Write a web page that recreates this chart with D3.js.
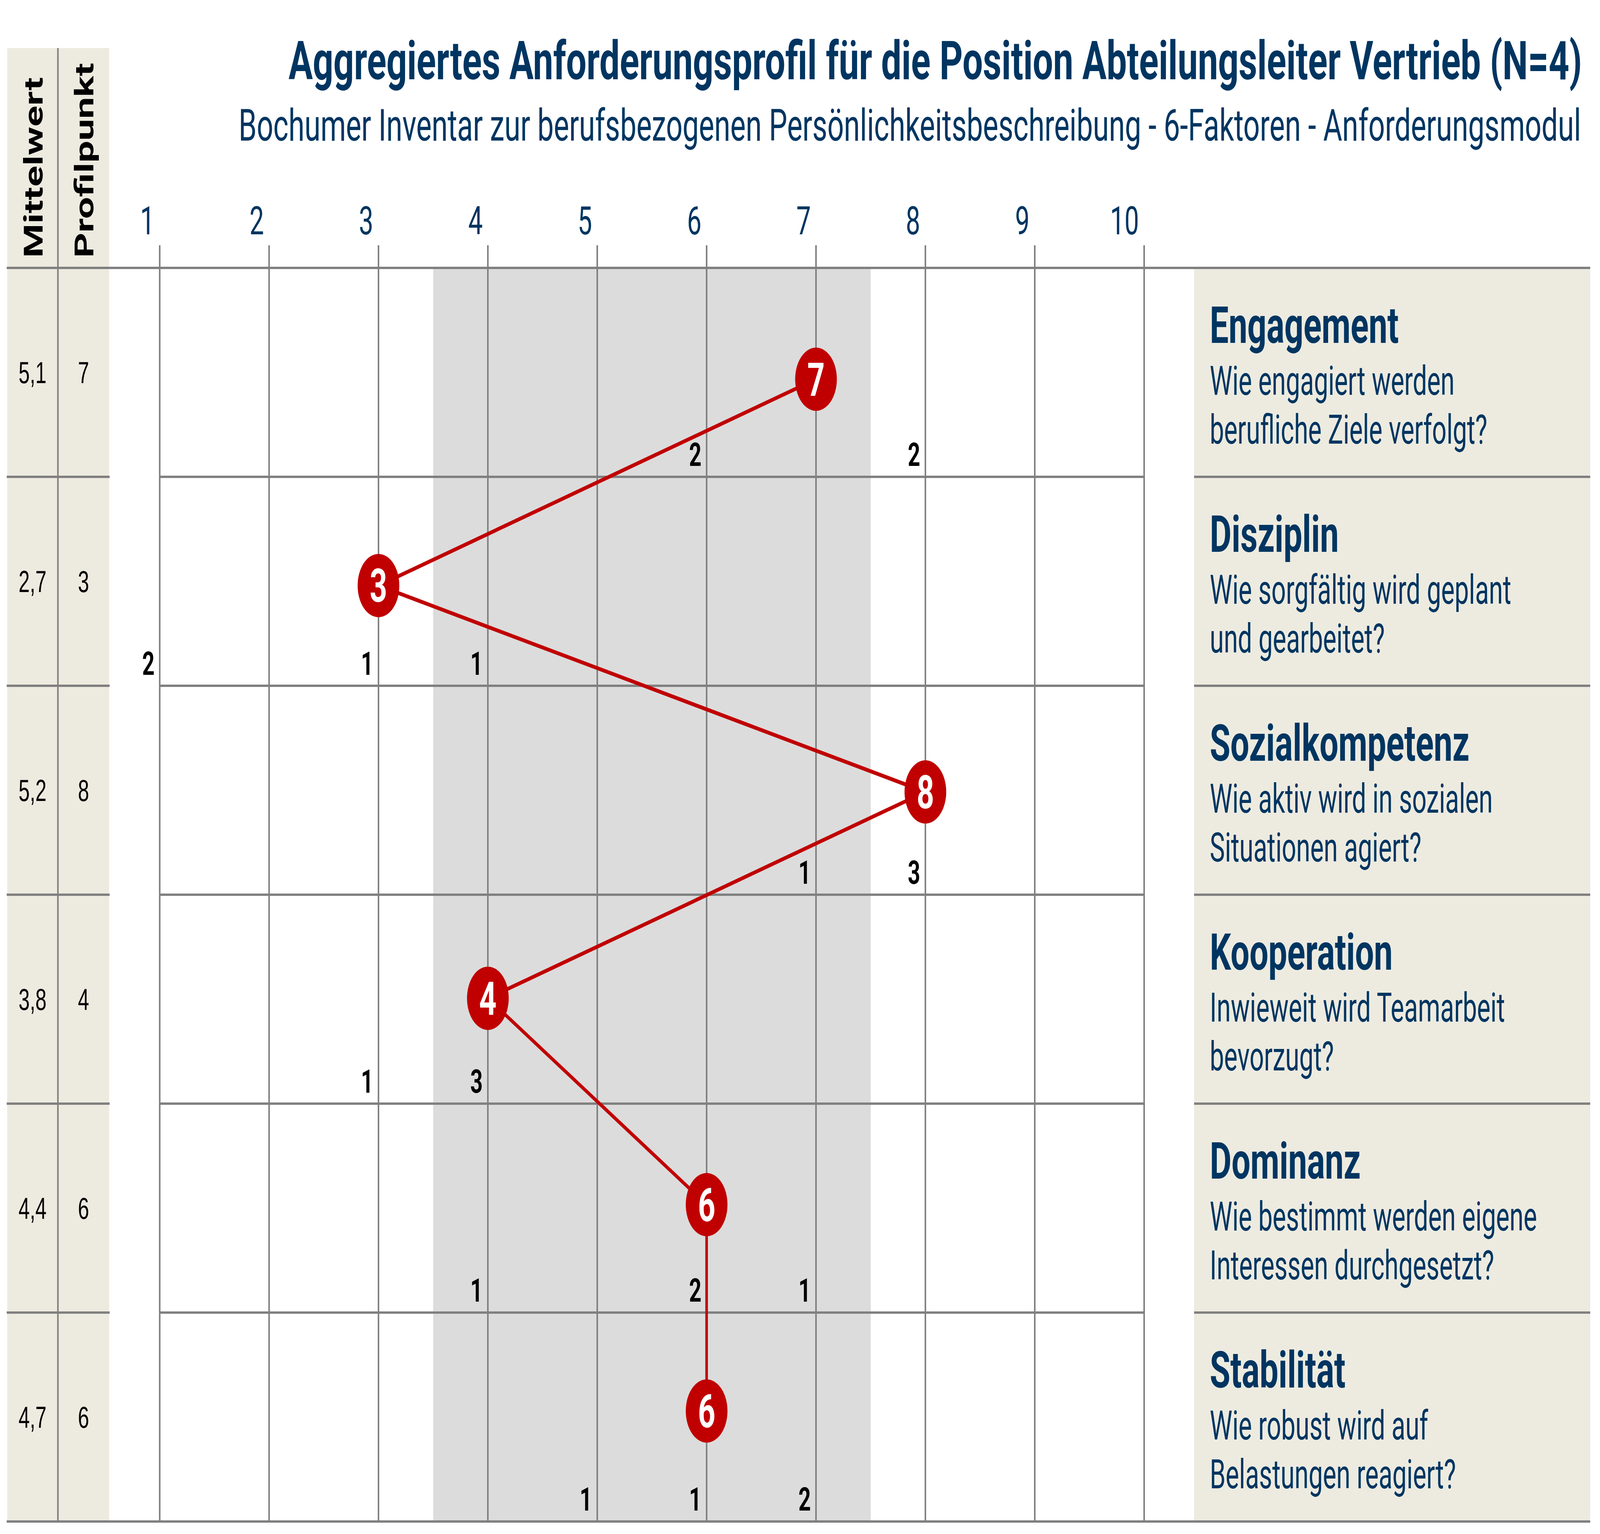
<!DOCTYPE html>
<html>
<head>
<meta charset="utf-8">
<script src="https://cdn.jsdelivr.net/npm/d3@7"></script>
<style>
  html, body { margin: 0; padding: 0; background: #fff; overflow: hidden; }
  svg { display: block; width: 100vw; height: 100vh; }
</style>
</head>
<body>
<div id="chart"></div>
<script>
// ---- data ----
const factors = ["Engagement", "Disziplin", "Sozialkompetenz", "Kooperation", "Dominanz", "Stabilität"];
const questions = [
  ["Wie engagiert werden", "berufliche Ziele verfolgt?"],
  ["Wie sorgfältig wird geplant", "und gearbeitet?"],
  ["Wie aktiv wird in sozialen", "Situationen agiert?"],
  ["Inwieweit wird Teamarbeit", "bevorzugt?"],
  ["Wie bestimmt werden eigene", "Interessen durchgesetzt?"],
  ["Wie robust wird auf", "Belastungen reagiert?"]
];
const meanValues = [5.1, 2.7, 5.2, 3.8, 4.4, 4.7];
const profilePoints = [7, 3, 8, 4, 6, 6];
// how many of the N=4 raters chose each scale point
const ratingCounts = [
  [{ v: 6, n: 2 }, { v: 8, n: 2 }],
  [{ v: 1, n: 2 }, { v: 3, n: 1 }, { v: 4, n: 1 }],
  [{ v: 7, n: 1 }, { v: 8, n: 3 }],
  [{ v: 3, n: 1 }, { v: 4, n: 3 }],
  [{ v: 4, n: 1 }, { v: 6, n: 2 }, { v: 7, n: 1 }],
  [{ v: 5, n: 1 }, { v: 6, n: 1 }, { v: 7, n: 2 }]
];
const scaleTicks = [1, 2, 3, 4, 5, 6, 7, 8, 9, 10];
const targetBand = [3.5, 7.5];
const headerLabels = ["Mittelwert", "Profilpunkt"];
const title = "Aggregiertes Anforderungsprofil für die Position Abteilungsleiter Vertrieb (N=4)";
const subtitle = "Bochumer Inventar zur berufsbezogenen Persönlichkeitsbeschreibung - 6-Faktoren - Anforderungsmodul";

// ---- layout ----
const W = 6216, H = 3928;
const navy = "#003561", red = "#c00000", gridCol = "#808080", beige = "#edebe0", band = "#dcdcdc";
const gridTop = 686, gridBottom = 3896;
const leftX0 = 28, leftDiv = 225, leftX1 = 424;
const panelX0 = 4639, panelX1 = 6178;
const font = "Roboto, 'Open Sans', sans-serif";

// drawing is done in 6216x3928 units and stretched onto the whole window
const svg = d3.select("#chart").append("svg")
  .attr("viewBox", `0 0 ${W} ${H}`)
  .attr("preserveAspectRatio", "none");

const x = d3.scaleLinear().domain([1, 10]).range([620.5, 4445]);
const y = d3.scaleBand().domain(factors).range([gridTop, gridBottom]);
const yDot = d3.scalePoint().domain(factors).range([971, 3613]);
const comma = d3.formatLocale({ decimal: ",", thousands: ".", grouping: [3], currency: ["", "€"] }).format(".1f");

// squeeze a text to a given width; shrink the font first if it is far too wide
function fitWidth(sel, width, size) {
  sel.each(function () {
    const t = d3.select(this).attr("font-size", size);
    const w = this.getComputedTextLength();
    if (w > width * 1.04) t.attr("font-size", size * width * 1.04 / w);
    t.attr("textLength", width).attr("lengthAdjust", "spacingAndGlyphs");
  });
}

// backgrounds
svg.append("rect")
  .attr("x", leftX0).attr("y", 123)
  .attr("width", leftX1 - leftX0).attr("height", gridBottom - 123)
  .attr("fill", beige);
svg.append("rect")
  .attr("x", panelX0).attr("y", gridTop)
  .attr("width", panelX1 - panelX0).attr("height", gridBottom - gridTop)
  .attr("fill", beige);
svg.append("rect")
  .attr("x", x(targetBand[0])).attr("y", gridTop)
  .attr("width", x(targetBand[1]) - x(targetBand[0])).attr("height", gridBottom - gridTop)
  .attr("fill", band);

// vertical grid lines + ticks
const grid = svg.append("g").attr("stroke", gridCol).attr("stroke-width", 6);
grid.selectAll("line.v").data(scaleTicks).join("line")
  .attr("class", "v")
  .attr("x1", d => x(d)).attr("x2", d => x(d))
  .attr("y1", 628).attr("y2", gridBottom);
grid.append("line")
  .attr("x1", leftDiv).attr("x2", leftDiv)
  .attr("y1", 123).attr("y2", gridBottom);

// horizontal lines: outer ones full width, inner ones split in three parts
grid.selectAll("line.outer").data([gridTop, gridBottom]).join("line")
  .attr("class", "outer")
  .attr("x1", leftX0 - 2).attr("x2", panelX1)
  .attr("y1", d => d).attr("y2", d => d);
const inner = factors.slice(1).map(f => y(f));
const segs = [[leftX0 - 2, leftX1 + 2], [x(1), x(10)], [panelX0, panelX1]];
inner.forEach(yy => {
  segs.forEach(s => {
    grid.append("line")
      .attr("x1", s[0]).attr("x2", s[1])
      .attr("y1", yy).attr("y2", yy);
  });
});

// tick labels
svg.append("g").selectAll("text").data(scaleTicks).join("text")
  .attr("x", d => x(d) - 20).attr("y", 600)
  .attr("text-anchor", "end")
  .attr("font-family", font).attr("font-size", 100)
  .attr("fill", navy)
  .text(d => d);

// titles
svg.append("text")
  .attr("x", 6146).attr("y", 203)
  .attr("text-anchor", "end")
  .attr("font-family", font).attr("font-weight", 700)
  .attr("fill", navy)
  .text(title)
  .call(fitWidth, 5025, 138);
svg.append("text")
  .attr("x", 6142).attr("y", 360)
  .attr("text-anchor", "end")
  .attr("font-family", font)
  .attr("fill", navy)
  .text(subtitle)
  .call(fitWidth, 5215, 113);

// rotated column headers
svg.append("g").selectAll("text").data(headerLabels).join("text")
  .attr("transform", (d, i) => `translate(${i === 0 ? 165 : 363},660) rotate(-90)`)
  .attr("font-family", font).attr("font-weight", 700).attr("font-size", 100)
  .attr("fill", "#000")
  .text(d => d);

// left columns: mean and profile point
const left = svg.append("g")
  .attr("font-family", "'Liberation Sans', Arial, sans-serif").attr("font-size", 78)
  .attr("text-anchor", "middle").attr("fill", "#000");
left.selectAll("text.mean").data(meanValues).join("text")
  .attr("class", "mean")
  .attr("x", (leftX0 + leftDiv) / 2)
  .attr("y", (d, i) => y(factors[i]) + y.bandwidth() / 2 + 28)
  .text(d => comma(d));
left.selectAll("text.pp").data(profilePoints).join("text")
  .attr("class", "pp")
  .attr("x", (leftDiv + leftX1) / 2)
  .attr("y", (d, i) => y(factors[i]) + y.bandwidth() / 2 + 28)
  .text(d => d);

// rater counts in each row
const cnt = svg.append("g")
  .attr("font-family", font).attr("font-weight", 700).attr("font-size", 84)
  .attr("text-anchor", "end").attr("fill", "#000");
ratingCounts.forEach((row, i) => {
  cnt.selectAll(null).data(row).join("text")
    .attr("x", d => x(d.v) - 20)
    .attr("y", y(factors[i]) + y.bandwidth() - 28)
    .text(d => d.n);
});

// profile line and dots
const line = d3.line()
  .x(d => x(d))
  .y((d, i) => yDot(factors[i]));
svg.append("path")
  .datum(profilePoints)
  .attr("d", line)
  .attr("fill", "none")
  .attr("stroke", red).attr("stroke-width", 10);

const dots = svg.append("g").selectAll("g").data(profilePoints).join("g")
  .attr("transform", (d, i) => `translate(${x(d)},${yDot(factors[i])})`);
dots.append("circle").attr("r", 81).attr("fill", red);
dots.append("text")
  .attr("y", 42)
  .attr("text-anchor", "middle")
  .attr("font-family", font).attr("font-weight", 700).attr("font-size", 118)
  .attr("fill", "#fff")
  .text(d => d);

// right panel: factor names and questions
const panel = svg.append("g").selectAll("g").data(factors).join("g")
  .attr("transform", d => `translate(4700,${y(d)})`)
  .attr("fill", navy).attr("font-family", font);
panel.append("text")
  .attr("y", 192)
  .attr("font-weight", 700).attr("font-size", 130)
  .text(d => d);
panel.each(function (d, i) {
  d3.select(this).selectAll("text.q").data(questions[i]).join("text")
    .attr("class", "q")
    .attr("y", (q, j) => 325 + j * 125)
    .attr("font-size", 104)
    .text(q => q)
    .each(function () {
      const w = this.getComputedTextLength();
      d3.select(this).attr("textLength", w * 0.95).attr("lengthAdjust", "spacingAndGlyphs");
    });
});
</script>
</body>
</html>
